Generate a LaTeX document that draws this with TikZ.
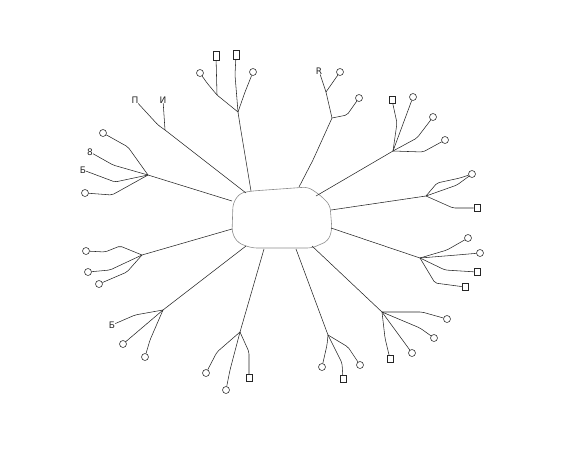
\documentclass[tikz,border=0pt]{standalone}
\usepackage{fontspec}
\newfontfamily\glyphfont{DejaVu Sans}
\begin{document}
\begin{tikzpicture}[x=1pt,y=-1pt,
  br/.style={draw=black!85,line width=0.55pt,rounded corners=2pt},
  lc/.style={circle,draw=black!85,line width=0.55pt,inner sep=0pt,minimum size=7pt},
  ls/.style={rectangle,draw=black!85,line width=0.55pt,inner sep=0pt,minimum width=6pt,minimum height=7pt},
  lt/.style={inner sep=0pt,font=\glyphfont\fontsize{9}{9}\selectfont,text=black!85}]
\useasboundingbox (0,0) rectangle (576,448);
% central blob
\draw[black!45,line width=0.6pt,rounded corners=5pt]
  (240,193) -- (252,191) -- (308,187) -- (320,195) -- (330,205) -- (332,230)
  -- (328,241) -- (312,248) -- (252,248) -- (238,243) -- (232,233) -- (233,203) -- cycle;
% hub points on the blob
\coordinate (sA) at (251,191); \coordinate (sB) at (299,187);
\coordinate (sC) at (316,196); \coordinate (sD) at (331,210);
\coordinate (sE) at (331,228); \coordinate (sF) at (312,246);
\coordinate (sG) at (296,249); \coordinate (sH) at (264,249);
\coordinate (sI) at (246,246); \coordinate (sJ) at (232,229);
\coordinate (sK) at (232,201); \coordinate (sL) at (246,193);
% junctions
\coordinate (jA) at (238,112); \coordinate (jB) at (332,118);
\coordinate (jC) at (393,151); \coordinate (jD) at (426,196);
\coordinate (jE) at (420,258); \coordinate (jF) at (382,312);
\coordinate (jG) at (328,335); \coordinate (jH) at (240,332);
\coordinate (jI) at (163,310); \coordinate (jJ) at (142,255);
\coordinate (jK) at (148,175); \coordinate (jL) at (165,130);
% leaves
\node[lc] (A1) at (200,73) {};
\node[ls,minimum height=9pt] (A2) at (216,56) {};
\node[ls,minimum height=9pt] (A3) at (236,55) {};
\node[lc] (A4) at (253,72) {};
\node[lt] (B1) at (319,71) {R};
\node[lc] (B2) at (340,72) {};
\node[lc] (B3) at (359,98) {};
\node[ls] (C1) at (392,100) {};
\node[lc] (C2) at (413,97) {};
\node[lc] (C3) at (433,117) {};
\node[lc] (C4) at (445,140) {};
\node[lc] (D1) at (472,174) {};
\node[ls] (D2) at (477,208) {};
\node[lc] (E1) at (468,238) {};
\node[lc] (E2) at (480,253) {};
\node[ls] (E3) at (477,272) {};
\node[ls] (E4) at (465,287) {};
\node[lc] (F1) at (447,319) {};
\node[lc] (F2) at (434,338) {};
\node[lc] (F3) at (412,353) {};
\node[ls] (F4) at (390,359) {};
\node[lc] (G1) at (322,367) {};
\node[ls] (G2) at (343,379) {};
\node[lc] (G3) at (360,365) {};
\node[lc] (H1) at (206,373) {};
\node[lc] (H2) at (226,390) {};
\node[ls] (H3) at (249,378) {};
\node[lt] (I1) at (112,325) {Б};
\node[lc] (I2) at (123,344) {};
\node[lc] (I3) at (145,357) {};
\node[lc] (J1) at (86,251) {};
\node[lc] (J2) at (88,272) {};
\node[lc] (J3) at (99,284) {};
\node[lc] (K1) at (103,133) {};
\node[lt] (K2) at (90,152) {8};
\node[lt] (K3) at (83,170) {Б};
\node[lc] (K4) at (85,193) {};
\node[lt] (L1) at (135,100) {П};
\node[lt] (L2) at (163,100) {И};
% trunks
\draw[br] (sA) -- (240,125) -- (jA);
\draw[br] (sB) -- (313,160) -- (jB);
\draw[br] (sC) -- (jC);
\draw[br] (sD) -- (jD);
\draw[br] (sE) -- (jE);
\draw[br] (sF) -- (jF);
\draw[br] (sG) -- (jG);
\draw[br] (sH) -- (jH);
\draw[br] (sI) -- (jI);
\draw[br] (sJ) -- (jJ);
\draw[br] (sK) -- (jK);
\draw[br] (sL) -- (jL);
% twigs
\draw[br] (jA) -- (217,95) -- (207,83) -- (A1);
\draw[br] (217,95) -- (A2);
\draw[br] (jA) -- (235,75) -- (A3);
\draw[br] (jA) -- (245,92) -- (A4);
\draw[br] (jB) -- (326,92) -- (B1);
\draw[br] (326,92) -- (B2);
\draw[br] (jB) -- (347,115) -- (B3);
\draw[br] (jC) -- (397,123) -- (C1);
\draw[br] (jC) -- (C2);
\draw[br] (jC) -- (417,138) -- (C3);
\draw[br] (jC) -- (423,152) -- (C4);
\draw[br] (jD) -- (437,183) -- (460,178) -- (D1);
\draw[br] (jD) -- (457,185) -- (D1);
\draw[br] (jD) -- (453,208) -- (D2);
\draw[br] (jE) -- (447,250) -- (E1);
\draw[br] (jE) -- (457,255) -- (E2);
\draw[br] (jE) -- (445,270) -- (E3);
\draw[br] (jE) -- (435,283) -- (E4);
\draw[br] (jF) -- (422,312) -- (F1);
\draw[br] (jF) -- (420,328) -- (F2);
\draw[br] (jF) -- (F3);
\draw[br] (jF) -- (385,338) -- (F4);
\draw[br] (jG) -- (327,345) -- (G1);
\draw[br] (jG) -- (342,363) -- (G2);
\draw[br] (jG) -- (348,347) -- (G3);
\draw[br] (jH) -- (217,352) -- (H1);
\draw[br] (jH) -- (230,370) -- (H2);
\draw[br] (jH) -- (249,352) -- (H3);
\draw[br] (jI) -- (135,315) -- (I1);
\draw[br] (jI) -- (I2);
\draw[br] (jI) -- (150,340) -- (I3);
\draw[br] (jJ) -- (120,246) -- (105,252) -- (J1);
\draw[br] (jJ) -- (110,270) -- (J2);
\draw[br] (jJ) -- (127,272) -- (J3);
\draw[br] (jK) -- (128,147) -- (K1);
\draw[br] (jK) -- (113,165) -- (K2);
\draw[br] (jK) -- (115,182) -- (K3);
\draw[br] (jK) -- (112,195) -- (K4);
\draw[br] (jL) -- (158,125) -- (L1);
\draw[br] (jL) -- (L2);
\end{tikzpicture}
\end{document}
